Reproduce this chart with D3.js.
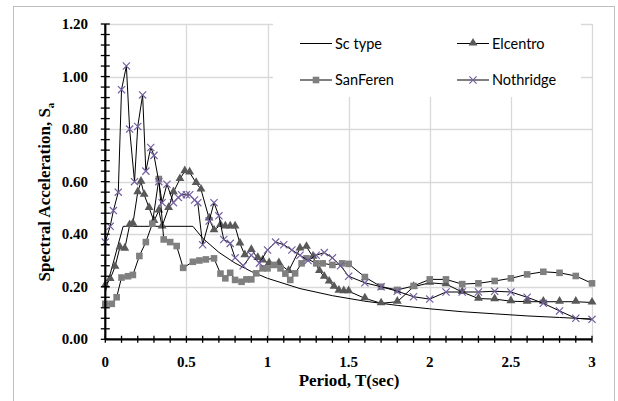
<!DOCTYPE html>
<html>
<head>
<meta charset="utf-8">
<script src="https://cdn.jsdelivr.net/npm/d3@7"></script>
<style>
  html, body { margin: 0; padding: 0; background: #fff; }
  svg { display: block; }
</style>
</head>
<body>
<div id="chart"></div>
<script>
// Sc type design spectrum
const scPeriod = [0, 0.11, 0.54, 0.6, 0.7, 0.8, 0.9, 1.0, 1.2, 1.4, 1.6, 1.8, 2.0, 2.2, 2.4, 2.6, 2.8, 3.0];
const scType   = [0.18, 0.43, 0.43, 0.385, 0.331, 0.29, 0.258, 0.232, 0.193, 0.166, 0.145, 0.129, 0.116, 0.105, 0.097, 0.089, 0.083, 0.077];

// Elcentro record
const elPeriod = [0, 0.03, 0.06, 0.09, 0.12, 0.15, 0.17, 0.2, 0.22, 0.24, 0.27, 0.3, 0.33, 0.35, 0.39, 0.42, 0.46, 0.49, 0.52, 0.56, 0.59,
  0.64, 0.67, 0.71, 0.74, 0.77, 0.8, 0.83, 0.86, 0.9, 0.94, 0.97, 1.01, 1.07, 1.13, 1.2, 1.24, 1.28, 1.32, 1.35, 1.38, 1.41, 1.44, 1.47, 1.5,
  1.6, 1.7, 1.8, 1.9, 2.0, 2.1, 2.2, 2.3, 2.4, 2.5, 2.6, 2.7, 2.8, 2.9, 3.0];
const elcentro = [0.205, 0.23, 0.276, 0.35, 0.345, 0.435, 0.44, 0.56, 0.6, 0.55, 0.5, 0.45, 0.49, 0.43, 0.5, 0.56, 0.61, 0.64, 0.635, 0.595, 0.57,
  0.46, 0.415, 0.435, 0.43, 0.43, 0.43, 0.365, 0.32, 0.34, 0.31, 0.3, 0.29, 0.29, 0.26, 0.346, 0.352, 0.314, 0.26, 0.238, 0.22, 0.2, 0.185, 0.183, 0.183,
  0.156, 0.137, 0.143, 0.2, 0.215, 0.21, 0.18, 0.155, 0.153, 0.145, 0.143, 0.143, 0.143, 0.143, 0.14];

// SanFeren record
const sfPeriod = [0, 0.04, 0.07, 0.1, 0.14, 0.17, 0.21, 0.25, 0.29, 0.33, 0.36, 0.4, 0.44, 0.48, 0.54, 0.58, 0.62, 0.67, 0.71, 0.74, 0.77,
  0.8, 0.84, 0.87, 0.9, 0.93, 0.97, 1.0, 1.04, 1.08, 1.11, 1.14, 1.17, 1.21, 1.24, 1.3, 1.34, 1.4, 1.46, 1.5,
  1.6, 1.7, 1.8, 1.9, 2.0, 2.1, 2.2, 2.3, 2.4, 2.5, 2.6, 2.7, 2.8, 2.9, 3.0];
const sanFeren = [0.135, 0.135, 0.16, 0.235, 0.24, 0.245, 0.317, 0.37, 0.44, 0.61, 0.38, 0.37, 0.355, 0.272, 0.295, 0.3, 0.304, 0.308, 0.25, 0.232, 0.253,
  0.226, 0.219, 0.228, 0.228, 0.251, 0.27, 0.27, 0.283, 0.27, 0.25, 0.226, 0.251, 0.289, 0.308, 0.289, 0.289, 0.283, 0.289, 0.287,
  0.237, 0.2, 0.188, 0.203, 0.228, 0.228, 0.21, 0.213, 0.222, 0.232, 0.247, 0.257, 0.253, 0.241, 0.213];

// Nothridge record
const nrPeriod = [0, 0.03, 0.05, 0.08, 0.1, 0.13, 0.15, 0.18, 0.2, 0.23, 0.25, 0.28, 0.3, 0.33, 0.35, 0.38, 0.42, 0.45, 0.47, 0.5, 0.52, 0.55, 0.57,
  0.6, 0.64, 0.67, 0.7, 0.73, 0.77, 0.8, 0.85, 0.9, 0.95, 1.0, 1.05, 1.1, 1.15, 1.2, 1.25, 1.3, 1.35, 1.4, 1.45, 1.5,
  1.6, 1.7, 1.8, 1.9, 2.0, 2.1, 2.2, 2.3, 2.4, 2.5, 2.6, 2.7, 2.8, 2.9, 3.0];
const nothridge = [0.37, 0.43, 0.49, 0.56, 0.95, 1.04, 0.8, 0.6, 0.81, 0.93, 0.64, 0.73, 0.7, 0.6, 0.52, 0.59, 0.52, 0.54, 0.55, 0.55, 0.55, 0.53, 0.52,
  0.36, 0.45, 0.52, 0.47, 0.38, 0.365, 0.31, 0.28, 0.32, 0.29, 0.34, 0.37, 0.36, 0.34, 0.32, 0.3, 0.32, 0.33, 0.31, 0.28, 0.24,
  0.215, 0.2, 0.183, 0.162, 0.153, 0.18, 0.18, 0.18, 0.183, 0.18, 0.16, 0.137, 0.108, 0.08, 0.076];

const xTicks = [0, 0.5, 1, 1.5, 2, 2.5, 3];
const xTickLabels = ["0", "0.5", "1", "1.5", "2", "2.5", "3"];
const yTicks = [0, 0.2, 0.4, 0.6, 0.8, 1.0, 1.2];
const yTickLabels = ["0.00", "0.20", "0.40", "0.60", "0.80", "1.00", "1.20"];

const width = 618, height = 401;
const plot = { left: 105.3, right: 592, top: 24, bottom: 339.3 };

const svg = d3.select("#chart").append("svg")
  .attr("width", width)
  .attr("height", height);

// outer chart border
svg.append("rect")
  .attr("x", 13.5).attr("y", 6.5)
  .attr("width", 601).attr("height", 400)
  .attr("fill", "#fff")
  .attr("stroke", "#bfbfbf");

const x = d3.scaleLinear().domain([0, 3]).range([plot.left, plot.right]);
const y = d3.scaleLinear().domain([0, 1.2]).range([plot.bottom, plot.top]);

// gridlines
svg.append("g")
  .selectAll("line.hgrid")
  .data(yTicks.filter(d => d > 0))
  .enter().append("line")
  .attr("x1", plot.left).attr("x2", plot.right)
  .attr("y1", d => Math.round(y(d)) + 0.5).attr("y2", d => Math.round(y(d)) + 0.5)
  .attr("stroke", "#d9d9d9").attr("stroke-width", 1.3);

svg.append("g")
  .selectAll("line.vgrid")
  .data(xTicks.filter(d => d > 0))
  .enter().append("line")
  .attr("x1", d => Math.round(x(d)) + 0.5).attr("x2", d => Math.round(x(d)) + 0.5)
  .attr("y1", plot.top).attr("y2", plot.bottom)
  .attr("stroke", "#d9d9d9").attr("stroke-width", 1.3);

// legend box (white, hides grid underneath)
svg.append("rect")
  .attr("x", 273).attr("y", 23)
  .attr("width", 308).attr("height", 74)
  .attr("fill", "#fff");

// series lines
const line = d3.line().x(d => x(d[0])).y(d => y(d[1]));
const zip = (ts, vs) => ts.map((t, i) => [t, vs[i]]);

const series = [
  { name: "Sc type", pts: zip(scPeriod, scType), marker: null },
  { name: "Elcentro", pts: zip(elPeriod, elcentro), marker: "tri" },
  { name: "SanFeren", pts: zip(sfPeriod, sanFeren), marker: "sq" },
  { name: "Nothridge", pts: zip(nrPeriod, nothridge), marker: "x" }
];

function drawMarker(g, type, cx, cy) {
  if (type === "tri") {
    g.append("path")
      .attr("d", d3.symbol().type(d3.symbolTriangle).size(34)())
      .attr("transform", `translate(${cx},${cy - 0.5})`)
      .attr("fill", "#595959");
  } else if (type === "sq") {
    g.append("rect")
      .attr("x", cx - 3.3).attr("y", cy - 3.3)
      .attr("width", 6.6).attr("height", 6.6)
      .attr("fill", "#808080");
  } else if (type === "x") {
    g.append("path")
      .attr("d", `M${cx - 3.6},${cy - 3.6}L${cx + 3.6},${cy + 3.6}M${cx - 3.6},${cy + 3.6}L${cx + 3.6},${cy - 3.6}`)
      .attr("stroke", "#7460a0").attr("stroke-width", 1.2)
      .attr("fill", "none");
  }
}

series.forEach(s => {
  const g = svg.append("g");
  g.append("path")
    .datum(s.pts)
    .attr("d", line)
    .attr("fill", "none")
    .attr("stroke", "#000")
    .attr("stroke-width", 1);
  if (s.marker) {
    s.pts.forEach(p => drawMarker(g, s.marker, x(p[0]), y(p[1])));
  }
});

// axes
const axisG = svg.append("g");
axisG.append("line")
  .attr("x1", plot.left).attr("x2", plot.right)
  .attr("y1", plot.bottom).attr("y2", plot.bottom)
  .attr("stroke", "#000").attr("stroke-width", 2.2);
axisG.append("line")
  .attr("x1", plot.left).attr("x2", plot.left)
  .attr("y1", plot.top).attr("y2", plot.bottom)
  .attr("stroke", "#000").attr("stroke-width", 2.2);

// minor ticks (cross style)
const xMinor = d3.range(0, 31).map(i => i / 10);
axisG.selectAll("line.xtick")
  .data(xMinor)
  .enter().append("line")
  .attr("x1", d => x(d)).attr("x2", d => x(d))
  .attr("y1", plot.bottom - 3.5).attr("y2", plot.bottom + 3.5)
  .attr("stroke", "#000").attr("stroke-width", 1.3);

const yMinor = d3.range(0, 31).map(i => i * 0.04);
axisG.selectAll("line.ytick")
  .data(yMinor)
  .enter().append("line")
  .attr("x1", plot.left - 4.5).attr("x2", plot.left + 4.5)
  .attr("y1", d => y(d)).attr("y2", d => y(d))
  .attr("stroke", "#000").attr("stroke-width", 1.3);

const serif = "'Liberation Serif', 'Times New Roman', serif";

axisG.selectAll("text.xlab")
  .data(xTicks)
  .enter().append("text")
  .attr("x", d => x(d))
  .attr("y", 367)
  .attr("text-anchor", "middle")
  .attr("font-family", serif)
  .attr("font-weight", "bold")
  .attr("font-size", 15)
  .text((d, i) => xTickLabels[i]);

axisG.selectAll("text.ylab")
  .data(yTicks)
  .enter().append("text")
  .attr("x", 88)
  .attr("y", d => y(d) + 5)
  .attr("text-anchor", "end")
  .attr("font-family", serif)
  .attr("font-weight", "bold")
  .attr("font-size", 15)
  .text((d, i) => yTickLabels[i]);

// axis titles
svg.append("text")
  .attr("x", 349)
  .attr("y", 386)
  .attr("text-anchor", "middle")
  .attr("font-family", serif)
  .attr("font-weight", "bold")
  .attr("font-size", 17)
  .text("Period, T(sec)");

const yTitle = svg.append("text")
  .attr("transform", "translate(50,192) rotate(-90)")
  .attr("text-anchor", "middle")
  .attr("font-family", serif)
  .attr("font-weight", "bold")
  .attr("font-size", 17);
yTitle.append("tspan").text("Spectral Acceleration, S");
yTitle.append("tspan").attr("font-size", 11).attr("dy", 4).text("a");

// legend
const legendItems = [
  { name: "Sc type", marker: null, lx: 300, ly: 43.5 },
  { name: "Elcentro", marker: "tri", lx: 457, ly: 43.5 },
  { name: "SanFeren", marker: "sq", lx: 300, ly: 80 },
  { name: "Nothridge", marker: "x", lx: 457, ly: 80 }
];
const lg = svg.append("g");
legendItems.forEach(it => {
  lg.append("line")
    .attr("x1", it.lx).attr("x2", it.lx + 32)
    .attr("y1", it.ly).attr("y2", it.ly)
    .attr("stroke", "#000").attr("stroke-width", 1);
  if (it.marker) drawMarker(lg, it.marker, it.lx + 16, it.ly);
  lg.append("text")
    .attr("x", it.lx + 35)
    .attr("y", it.ly + 5)
    .attr("font-family", "Lato, 'Open Sans', sans-serif")
    .attr("font-size", 14.5)
    .attr("fill", "#000")
    .text(it.name);
});
</script>
</body>
</html>
